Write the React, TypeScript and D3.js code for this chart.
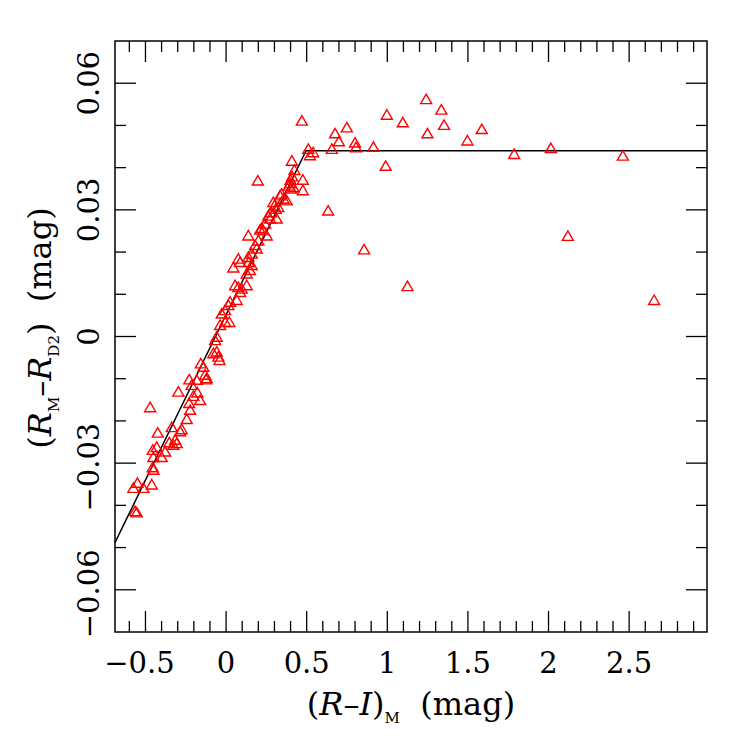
import React from "react";
import * as d3 from "d3";

const xs = [
  0.47, 0.51, 0.52, 0.54, 0.656, 0.676, 0.7, 0.749, 0.8, 0.806, 0.914, 0.997, 0.99, 1.096, 1.241, 1.249,
  1.335, 1.352, 1.497, 1.586, 1.787, 2.014, 2.461, 2.12, 2.655, 0.633, 0.856, 1.125, 0.476, 0.476,
  0.408, 0.197, 0.424, 0.41, 0.4, 0.397, 0.39, 0.418, 0.403, 0.345, 0.335, 0.356, 0.376, 0.293, 0.3,
  0.308, 0.324, 0.279, 0.262, 0.273, 0.314, 0.242, 0.221, 0.211, 0.231, 0.252, 0.138, 0.2, 0.18, 0.19,
  0.159, 0.138, 0.076, 0.087,
  0.045, 0.14, 0.159, 0.128, 0.148, 0.056, 0.076, 0.097, 0.128, 0.087, 0.066, 0.025, 0.014, -0.006,
  -0.027, 0.02, -0.006, -0.037, -0.058, -0.068, -0.058, -0.048, -0.041, -0.079, -0.157, -0.141, -0.13,
  -0.12, -0.182,
  -0.565, -0.554, -0.575, -0.55, -0.513, -0.461, -0.451, -0.455, -0.451, -0.399, -0.455, -0.43, -0.378,
  -0.471, -0.424, -0.352, -0.337, -0.316, -0.306, -0.327, -0.285, -0.275, -0.244, -0.223, -0.229,
  -0.296, -0.228, -0.213, -0.203, -0.178, -0.161, -0.124,
];
const ys = [
  0.0512, 0.0445, 0.043, 0.0437, 0.0445, 0.0482, 0.0463, 0.0496, 0.046, 0.0449, 0.045, 0.0526, 0.0405,
  0.0508, 0.0563, 0.0482, 0.0538, 0.0502, 0.0465, 0.0492, 0.0433, 0.0447, 0.0429, 0.0239, 0.0087,
  0.0299, 0.0207, 0.012, 0.0372, 0.0347,
  0.0417, 0.037, 0.0395, 0.038, 0.0372, 0.0364, 0.0358, 0.0354, 0.0351, 0.0339, 0.0335, 0.0327, 0.0323,
  0.0319, 0.0311, 0.0303, 0.0307, 0.0295, 0.0287, 0.028, 0.028, 0.0268, 0.0258, 0.0254, 0.0252, 0.024,
  0.024, 0.0228, 0.0217, 0.0209, 0.0197, 0.0189, 0.0185, 0.0177,
  0.0164, 0.0177, 0.017, 0.015, 0.0158, 0.0122, 0.0118, 0.0114, 0.0122, 0.0106, 0.0087, 0.0083, 0.0075,
  0.0063, 0.0055, 0.0035, 0.0035, 0.0028, 0.0, -0.0008, -0.0035, -0.0047, -0.0055, -0.0039, -0.0063,
  -0.0071, -0.009, -0.0098, -0.0102,
  -0.0413, -0.0416, -0.0358, -0.0346, -0.0358, -0.035, -0.0315, -0.0309, -0.0285, -0.0285, -0.0268,
  -0.0261, -0.0272, -0.0167, -0.0227, -0.025, -0.0214, -0.0244, -0.0252, -0.0256, -0.0224, -0.0219,
  -0.0195, -0.0173, -0.0157, -0.013, -0.0101, -0.0114, -0.014, -0.0132, -0.015, -0.0101,
];

// Broken-line fit: rising line then flat plateau
const fitX = [-0.69, 0.496, 2.98];
const fitY = [-0.0489, 0.044, 0.044];

const xMajor = [-0.5, 0, 0.5, 1, 1.5, 2, 2.5];
const xMajorLabels = ["\u22120.5", "0", "0.5", "1", "1.5", "2", "2.5"];
const yMajor = [-0.06, -0.03, 0, 0.03, 0.06];
const yMajorLabels = ["\u22120.06", "\u22120.03", "0", "0.03", "0.06"];

const W = 747;
const H = 747;
const L = 115;
const R = 707;
const T = 41;
const B = 632;
const FONT = "'DejaVu Serif', 'Liberation Serif', serif";

export default function App() {
  const x = d3.scaleLinear().domain([-0.689, 2.983]).range([L, R]);
  const y = d3.scaleLinear().domain([-0.07, 0.07]).range([B, T]);

  const xMinor = d3.range(-6, 30).map((i) => i / 10).filter((v) => !xMajor.some((m) => Math.abs(m - v) < 1e-6));
  const yMinor = d3.range(-7, 8).map((i) => i / 100).filter((v) => !yMajor.some((m) => Math.abs(m - v) < 1e-9) && Math.abs(v) < 0.0695);

  const line = d3.line<number>().x((_, i) => x(fitX[i])).y((_, i) => y(fitY[i]));
  const MAJ = 21;
  const MIN = 11;
  const tri = (cx: number, cy: number) => {
    const w = 5.5;
    const h = 9.5;
    return `M${cx - w},${cy + h / 2}L${cx + w},${cy + h / 2}L${cx},${cy - h / 2}Z`;
  };

  return (
    <svg width={W} height={H} style={{ position: "absolute", left: 0, top: 0, background: "#fff" }}>
      <rect x={0} y={0} width={W} height={H} fill="#fff" />
      <g stroke="#000" strokeWidth={1.3}>
        {xMajor.map((v) => (
          <g key={"xM" + v}>
            <line x1={x(v)} x2={x(v)} y1={B} y2={B - MAJ} />
            <line x1={x(v)} x2={x(v)} y1={T} y2={T + MAJ} />
          </g>
        ))}
        {xMinor.map((v) => (
          <g key={"xm" + v}>
            <line x1={x(v)} x2={x(v)} y1={B} y2={B - MIN} />
            <line x1={x(v)} x2={x(v)} y1={T} y2={T + MIN} />
          </g>
        ))}
        {yMajor.map((v) => (
          <g key={"yM" + v}>
            <line x1={L} x2={L + MAJ} y1={y(v)} y2={y(v)} />
            <line x1={R} x2={R - MAJ} y1={y(v)} y2={y(v)} />
          </g>
        ))}
        {yMinor.map((v) => (
          <g key={"ym" + v}>
            <line x1={L} x2={L + MIN} y1={y(v)} y2={y(v)} />
            <line x1={R} x2={R - MIN} y1={y(v)} y2={y(v)} />
          </g>
        ))}
      </g>
      <rect x={L} y={T} width={R - L} height={B - T} fill="none" stroke="#000" strokeWidth={1.5} />
      <path d={line(fitX) || ""} fill="none" stroke="#000" strokeWidth={1.5} />
      <g fill="none" stroke="#ff0000" strokeWidth={1.4}>
        {xs.map((v, i) => (
          <path key={i} d={tri(x(v), y(ys[i]))} />
        ))}
      </g>
      <g fontFamily={FONT} fontSize={29} fill="#000">
        {xMajor.map((v, i) => (
          <text key={"xl" + v} x={x(v) - (xMajorLabels[i].startsWith("\u2212") ? 6 : 0)} y={673} textAnchor="middle">
            {xMajorLabels[i]}
          </text>
        ))}
        {yMajor.map((v, i) => (
          <text
            key={"yl" + v}
            transform={`translate(99,${y(v) + (yMajorLabels[i].startsWith("\u2212") ? 4 : 0)}) rotate(-90)`}
            textAnchor="middle"
          >
            {yMajorLabels[i]}
          </text>
        ))}
      </g>
      <text x={411} y={715} textAnchor="middle" fontFamily={FONT} fontSize={32} fill="#000">
        (<tspan fontStyle="italic">R</tspan>{"\u2013"}<tspan fontStyle="italic">I</tspan>)
        <tspan fontSize={15} dy={8}>M</tspan>
        <tspan dy={-8}>{"\u00a0\u00a0(mag)"}</tspan>
      </text>
      <text
        transform={`translate(51,${328}) rotate(-90)`}
        textAnchor="middle"
        fontFamily={FONT}
        fontSize={32}
        fill="#000"
      >
        (<tspan fontStyle="italic">R</tspan>
        <tspan fontSize={15} dy={8}>M</tspan>
        <tspan dy={-8}>{"\u2013"}</tspan>
        <tspan fontStyle="italic">R</tspan>
        <tspan fontSize={15} dy={8}>D2</tspan>
        <tspan dy={-8}>{")\u00a0\u00a0(mag)"}</tspan>
      </text>
    </svg>
  );
}
